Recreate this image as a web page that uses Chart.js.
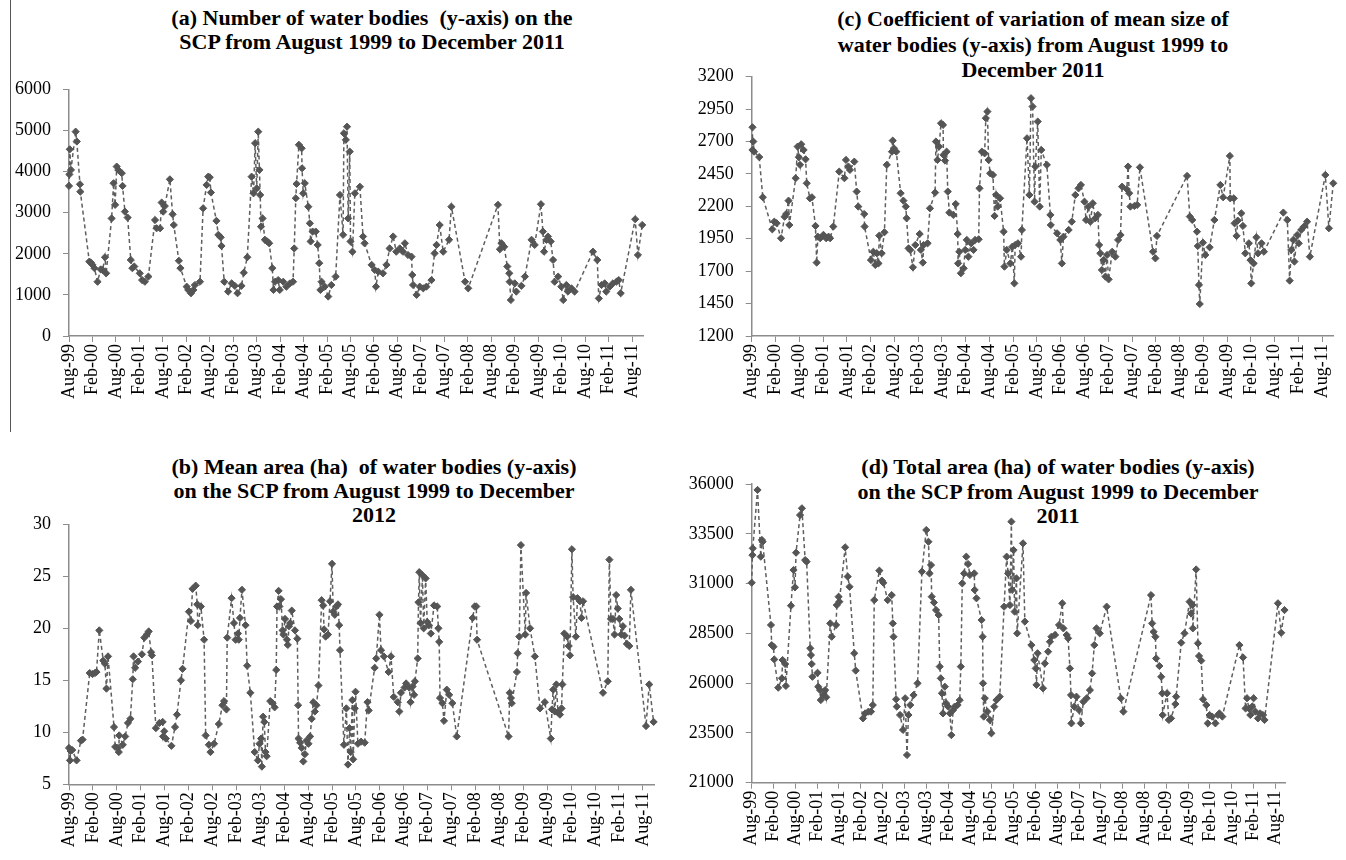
<!DOCTYPE html>
<html>
<head>
<meta charset="utf-8">
<script src="https://cdn.jsdelivr.net/npm/chart.js@4.4.0/dist/chart.umd.min.js"></script>
<style>
    body { margin: 0; background: #fff; width: 1346px; height: 860px; position: relative; overflow: hidden; }
    canvas { position: absolute; }
    .ttl { position: absolute; font: bold 22px "Liberation Serif", "Times New Roman", serif; color: #000;
           text-align: center; white-space: pre; width: 700px; }
    #rule { position: absolute; left: 10px; top: 0; width: 1px; height: 432px; background: #555; }
</style>
</head>
<body>
<div id="rule"></div>

<div class="ttl" style="left:22px; top:6px; line-height:24px;">(a) Number of water bodies  (y-axis) on the
SCP from August 1999 to December 2011</div>
<div class="ttl" style="left:683px; top:6px; line-height:25.5px;">(c) Coefficient of variation of mean size of
water bodies (y-axis) from August 1999 to
December 2011</div>
<div class="ttl" style="left:24px; top:455px; line-height:24px;">(b) Mean area (ha)  of water bodies (y-axis)
on the SCP from August 1999 to December
2012</div>
<div class="ttl" style="left:708px; top:455px; line-height:24.5px;">(d) Total area (ha) of water bodies (y-axis)
on the SCP from August 1999 to December
2011</div>

<canvas id="chartA" width="690" height="372" style="left:0; top:60px;"></canvas>
<canvas id="chartC" width="666" height="382" style="left:680px; top:50px;"></canvas>
<canvas id="chartB" width="690" height="420" style="left:0; top:440px;"></canvas>
<canvas id="chartD" width="666" height="420" style="left:680px; top:440px;"></canvas>

<script>
// x positions are months counted from August 1999
const xTickLabels = ["Aug-99", "Feb-00", "Aug-00", "Feb-01", "Aug-01", "Feb-02", "Aug-02", "Feb-03", "Aug-03",
    "Feb-04", "Aug-04", "Feb-05", "Aug-05", "Feb-06", "Aug-06", "Feb-07", "Aug-07", "Feb-08", "Aug-08",
    "Feb-09", "Aug-09", "Feb-10", "Aug-10", "Feb-11", "Aug-11"];
const lastMonth = 146.8;

// (a) number of water bodies
const countMonths = [0, 0.1, 0.2, 0.5, 1.7, 2.0, 2.8, 2.9, 5.2, 5.6, 6.0, 6.5, 7.3, 8.1, 8.6, 9.2, 9.5,
    10.9, 11.4, 11.8, 12.2, 12.6, 13.5, 13.7, 14.3, 15.0, 15.8, 16.2, 16.7, 18.1, 18.7, 19.4, 20.3,
    22.0, 22.4, 23.3, 23.7, 24.1, 24.5, 25.8, 26.5, 26.8, 28.1, 28.5, 30.1, 30.5, 31.2, 31.8, 32.2, 33.5,
    34.3, 35.2, 35.6, 36.0, 36.3, 37.7, 38.2, 38.8, 39.0, 39.7, 40.7, 41.6, 42.4, 43.1, 44.1, 44.7, 45.6,
    46.7, 47.2, 47.6, 48.0, 48.4, 48.7, 48.9, 49.1, 49.5, 50.1, 50.7, 51.2, 52.0, 52.3, 52.7, 53.5, 53.9,
    54.8, 55.6, 56.5, 57.3, 57.6, 58.0, 58.2, 58.8, 59.5, 59.6, 59.9, 60.3, 61.2, 61.6, 61.8, 62.3, 63.1,
    63.6, 64.0, 64.3, 64.6, 65.4, 66.3, 67.1, 68.2, 69.3, 70.1, 70.3, 70.8, 71.1, 71.4, 71.8, 72.0, 72.5,
    73.1, 74.4, 75.2, 75.6, 77.4, 78.2, 78.5, 79.1, 80.3, 81.2, 82.0, 82.9, 83.7, 84.6, 85.4, 85.9, 86.7,
    87.6, 87.8, 88.0, 88.9, 89.7, 90.6, 91.4, 92.7, 93.5, 94.0, 94.8, 95.7, 97.2, 97.8, 101.3, 102.1,
    109.7, 110.2, 110.6, 111.3, 112.1, 112.6, 112.7, 113.0, 114.0, 114.4, 115.7, 116.6, 118.3, 119.1,
    120.7, 121.2, 121.5, 122.1, 122.5, 123.2, 123.8, 124.2, 125.1, 125.9, 126.4, 127.2, 127.6, 128.5,
    129.3, 134.0, 135.1, 135.5, 136.2, 137.0, 137.4, 138.3, 139.1, 140.0, 140.6, 141.1, 144.8, 145.5, 146.6];
const countValues = [3650, 3930, 4540, 4040, 4970, 4730, 3690, 3510, 1810, 1785, 1730, 1650, 1320, 1620, 1605, 1915, 1525,
    2860, 3715, 3190, 4120, 4040, 3960, 3650, 3025, 2880, 1850, 1650, 1690, 1525, 1360, 1320, 1445,
    2820, 2620, 2620, 3245, 3025, 3160, 3810, 2960, 2700, 1830, 1650, 1200, 1120, 1040, 1120, 1240, 1320,
    3105, 3675, 3875, 3860, 3490, 2800, 2460, 2400, 2190, 1320, 1080, 1280, 1220, 1040, 1220, 1540, 1915,
    3875, 3470, 4690, 3590, 4970, 4040, 3430, 2660, 2860, 2340, 2300, 2255, 1650, 1120, 1320, 1360, 1120,
    1320, 1200, 1280, 1320, 2130, 3350, 3700, 4650, 4565, 4080, 3470, 3715, 3145, 2740, 2300, 2540, 2540,
    2215, 1770, 1120, 1320, 1200, 960, 1240, 1445, 3430, 2460, 4930, 4770, 5090, 2860, 4485, 2300, 2050,
    3470, 3630, 2420, 2255, 1730, 1605, 1200, 1565, 1525, 1730, 2130, 2420, 2050, 2130, 2050, 2255, 1970,
    1930, 1485, 1240, 1000, 1200, 1160, 1200, 1360, 2010, 2215, 2700, 2050, 2340, 3145, 1320, 1160,
    3190, 2110, 2255, 2170, 1690, 1525, 1320, 875, 1280, 1080, 1220, 1445, 2340, 2215,
    3205, 2540, 2050, 2340, 2420, 2300, 1850, 1320, 1445, 1200, 875, 1240, 1080, 1160,
    1080, 2050, 1850, 915, 1240, 1280, 1080, 1200, 1280, 1320, 1360, 1040, 2840, 1970, 2700];

// (b) mean area (ha)
const meanMonths = [0, 0.25, 0.4, 0.8, 1.9, 3.0, 3.4, 5.2, 5.9, 6.5, 6.9, 7.6, 8.6, 9.0, 9.4, 9.8,
    11.3, 11.6, 12.3, 12.5, 12.6, 13.5, 14.1, 14.8, 15.4, 16.0, 16.2, 16.6, 17.3, 18.3, 18.9, 19.5, 20.0, 20.6, 20.8,
    21.8, 22.7, 23.5, 23.6, 23.9, 24.3, 25.7, 26.6, 27.1, 28.1, 28.5, 30.1, 30.6, 31.0, 31.8, 32.2, 32.3, 33.1, 33.9,
    34.3, 35.1, 35.5, 36.4, 37.6, 38.5, 38.9, 39.5, 39.7, 40.8, 41.4, 41.8, 42.4, 42.6, 42.9, 43.4, 44.3, 44.7, 45.5,
    46.6, 47.4, 47.8, 48.2, 48.4, 48.7, 49.0, 49.3, 49.6, 50.5, 51.1, 51.6,
    52.0, 52.2, 52.6, 52.8, 53.2, 53.6, 53.8, 54.2, 54.7, 54.9, 55.2, 55.5, 55.9, 56.7, 57.3,
    57.5, 57.6, 58.0, 58.4, 58.8, 59.2, 59.6, 60.1, 60.5, 60.9, 61.3, 61.7, 62.1, 62.6,
    63.4, 63.8, 64.0, 64.4, 65.0, 65.5, 66.0, 66.3, 66.7, 67.1, 67.5, 67.8, 68.0,
    69.0, 69.6, 70.0, 70.4, 70.7, 71.1, 71.3, 71.7, 71.9, 72.5, 73.3, 74.2, 74.9, 75.2,
    76.7, 77.1, 77.9, 78.3, 79.0, 80.2, 80.8, 81.5, 82.5, 82.9, 83.3, 84.2, 84.6, 85.4, 85.7, 86.2, 86.6, 86.8, 87.5,
    87.7, 87.9, 88.2, 88.7, 89.0, 89.5, 89.9, 90.3, 90.8, 91.6, 92.4, 92.7, 92.9,
    93.1, 93.7, 94.1, 94.8, 95.4, 96.2, 97.3, 101.3, 101.8, 102.2, 102.4,
    110.3, 110.6, 110.9, 111.1, 112.4, 112.6, 113.0, 113.4, 114.5, 114.7, 115.7, 116.9,
    118.2, 119.4, 120.9, 121.2, 121.5, 121.9, 122.3, 122.7, 123.2, 123.6, 123.8,
    124.3, 125.0, 125.4, 125.7, 126.2, 126.5, 127.2, 127.6, 128.2, 128.6, 129.0,
    134.0, 135.2, 135.6, 136.0, 136.5, 136.9, 137.3, 137.7, 138.1, 138.6, 139.0, 139.4, 140.0, 140.6, 141.0,
    144.8, 145.6, 146.7];
const meanValues = [8.5, 7.3, 8.2, 8.3, 7.3, 9.2, 9.3, 15.7, 15.6, 15.7, 15.8, 19.8, 16.9, 16.6, 14.2, 17.3,
    10.5, 8.6, 8.5, 8.1, 9.7, 8.8, 9.6, 10.9, 11.3, 15.1, 17.3, 16.2, 16.8, 17.5, 19.1, 19.4, 19.7, 17.7, 17.4,
    10.4, 10.9, 11.0, 9.6, 10.1, 9.4, 8.7, 10.5, 11.7, 15.0, 16.1, 21.6, 20.7, 23.8, 24.1, 22.3, 20.3, 22.1, 18.9,
    9.7, 8.8, 8.1, 8.9, 10.8, 12.6, 13.0, 12.2, 19.1, 22.9, 20.5, 18.9, 19.5, 18.9, 21.0, 23.7, 20.3, 16.4, 13.8,
    8.1, 7.3, 8.9, 9.4, 6.7, 11.5, 11.0, 8.1, 7.7, 13.0, 12.8, 12.4,
    16.0, 22.1, 23.6, 22.1, 22.8, 19.8, 19.4, 20.9, 18.9, 18.4, 20.2, 20.5, 21.7, 19.8, 19.0,
    12.6, 9.4, 9.0, 8.5, 7.2, 7.9, 9.2, 8.9, 9.6, 11.3, 12.9, 12.0, 12.6, 14.5,
    22.7, 22.2, 19.9, 19.2, 19.4, 22.6, 26.2, 21.6, 21.3, 22.1, 22.3, 20.3, 17.9,
    8.8, 12.3, 6.9, 10.4, 8.1, 13.1, 7.4, 12.3, 13.9, 8.9, 9.1, 9.0, 12.9, 12.1,
    16.2, 17.1, 21.3, 17.9, 17.3, 15.8, 17.3, 13.4, 12.9, 12.0, 13.8, 14.3, 14.7, 14.3, 12.9, 14.4, 13.6, 14.9, 17.1,
    22.5, 25.4, 20.5, 25.1, 20.0, 24.8, 20.6, 20.3, 19.5, 22.2, 22.1, 20.0, 18.7,
    13.3, 12.8, 11.1, 14.1, 13.6, 12.8, 9.6, 21.0, 22.1, 22.1, 18.9,
    9.6, 13.8, 13.3, 12.8, 15.8, 17.6, 19.2, 28.0, 19.4, 23.4, 20.0, 17.3,
    12.3, 12.9, 9.4, 12.2, 14.1, 12.0, 14.6, 11.9, 11.7, 12.3, 14.6,
    19.5, 19.2, 18.3, 17.4, 27.6, 23.0, 19.2, 22.9, 22.6, 21.0, 22.6,
    13.8, 14.9, 26.6, 20.9, 20.9, 19.4, 23.2, 21.9, 20.9, 19.4, 20.2, 19.3, 18.5, 18.3, 23.7,
    10.6, 14.6, 11.0];

// (c) coefficient of variation of mean size
const cvMonths = [0.2, 0.2, 0.4, 0.6, 1.9, 2.8, 5.2, 5.7, 6.3, 7.4, 8.3, 8.7, 9.3, 9.5,
    11.1, 11.6, 11.9, 12.2, 12.5, 13.1, 13.6, 13.9, 14.7, 15.2, 16.1, 16.4, 16.7, 17.3, 18.1, 18.8, 19.4, 19.8, 20.6,
    22.1, 23.4, 23.8, 24.4, 24.8, 25.9, 26.5, 26.9, 28.4, 28.5, 30.1, 30.7, 31.2, 31.6, 32.0, 32.2, 32.8, 33.5,
    34.1, 35.4, 35.6, 35.9, 36.5, 37.6, 38.3, 38.9, 39.1, 39.6, 40.0, 40.7, 41.3, 42.4, 42.7, 43.2, 43.4, 44.4, 45.0, 46.3,
    46.5, 46.9, 47.3, 47.8, 48.3, 48.4, 48.8, 49.2, 49.5, 49.9, 50.9, 51.5, 52.0, 52.1, 52.4, 52.8, 53.5, 53.9,
    54.3, 54.7, 55.4, 56.0, 56.4, 57.3, 57.5, 58.1, 58.8, 59.1, 59.5, 59.8, 60.2, 60.9, 61.3, 61.7, 62.1, 62.7,
    63.6, 63.8, 64.4, 65.3, 65.8, 66.3, 66.5, 67.2, 68.0, 68.2, 69.5, 70.1, 70.5, 70.9, 71.4, 71.6, 72.2, 72.7, 73.1,
    74.5, 75.4, 75.5, 77.1, 77.9, 78.3, 78.7, 80.0, 80.8, 81.7, 82.5, 83.1, 84.0, 84.4, 85.0, 85.5, 86.1, 86.7, 87.4,
    87.7, 88.0, 88.4, 88.8, 89.3, 89.7, 90.1, 91.0, 91.8, 92.5, 93.1, 93.5, 94.7, 95.0, 95.3, 95.6, 96.6, 97.3, 98.0,
    101.3, 101.9, 102.3, 109.9, 110.6, 111.2, 112.4, 112.6, 112.9, 113.1, 113.9, 114.5, 115.6, 116.8,
    118.3, 119.0, 120.7, 120.8, 121.7, 121.9, 122.4, 122.7, 123.6, 124.0, 124.6, 125.5, 125.9, 126.1, 126.7,
    127.4, 127.8, 128.7, 129.3, 134.2, 135.2, 135.8, 136.2, 136.7, 137.0, 137.7, 138.1, 138.7, 139.4, 140.2, 140.9,
    144.8, 145.7, 146.8];
const cvValues = [2810, 2635, 2700, 2622, 2580, 2270, 2023, 2082, 2070, 1954, 2120, 2141, 2244, 2056,
    2417, 2661, 2579, 2520, 2679, 2635, 2563, 2378, 2262, 2270, 2049, 1766, 1966, 1954, 1980, 1954, 1966, 1954, 2044,
    2468, 2417, 2558, 2507, 2481, 2545, 2314, 2198, 2141, 2044, 1786, 1850, 1748, 1838, 1760, 1974, 1838, 2000,
    2520, 2622, 2707, 2648, 2622, 2301, 2244, 2198, 2108, 1876, 1864, 1730, 1902, 1987, 1864, 1766, 1902, 1915, 2185, 2306,
    2700, 2558, 2661, 2841, 2828, 2597, 2553, 2622, 2314, 2152, 2134, 2218, 1987, 1760, 1850, 1684, 1722, 1864,
    1941, 1812, 1915, 1864, 1941, 1946, 2339, 2622, 2609, 2880, 2931, 2558, 2455, 2442, 2126, 2288, 2198, 2262,
    2005, 1735, 1864, 1760, 1889, 1606, 1902, 1915, 1812, 2018, 2725, 2288, 3034, 2970, 2236, 2507, 2854, 2198, 2635,
    2520, 2134, 2056, 1992, 1941, 1760, 1966, 2018, 2082, 2288, 2339, 2365, 2236, 2095, 2198, 2082, 2224, 2108, 2134,
    1902, 1838, 1709, 1786, 1658, 1825, 1637, 1850, 1812, 1941, 1979, 2352, 2332, 2507, 2301, 2198, 2203, 2211, 2501,
    1850, 1799, 1972, 2435, 2121, 2095, 2005, 1894, 1594, 1447, 1920, 1825, 1884, 2095,
    2365, 2270, 2589, 2262, 2262, 2069, 1972, 2090, 2146, 2049, 1838, 1915, 1786, 1606, 1760,
    1961, 1838, 1915, 1850, 2152, 2095, 1627, 1864, 1941, 1774, 1979, 1915, 2018, 2044, 2082, 1812,
    2442, 2031, 2378];

// (d) total area (ha)
const totalMonths = [0, 0.2, 0.3, 1.6, 2.5, 2.8, 3.0, 5.3, 5.5, 6.0, 6.2, 7.3, 8.3, 8.5, 9.2, 9.4,
    10.8, 11.5, 11.9, 12.2, 13.3, 13.8, 14.7, 15.1, 16.1, 16.3, 16.5, 16.7, 18.1, 18.3, 18.8, 19.0, 19.7, 20.2, 20.5,
    21.6, 22.0, 23.2, 23.4, 23.9, 24.1, 25.7, 26.4, 26.9, 28.2, 28.6, 30.6, 31.2, 32.1, 32.8, 33.3,
    33.7, 35.1, 35.8, 36.2, 37.4, 38.5, 38.8, 39.0, 39.7, 39.9, 40.8, 41.6, 42.2, 42.7, 43.1, 43.6, 44.5, 45.6,
    46.8, 48.0, 48.6, 48.9, 49.3, 49.5, 50.1, 50.7, 51.4, 51.7, 52.0, 52.3, 52.6, 53.1, 53.5, 54.0, 54.5, 54.9,
    55.4, 55.8, 56.6, 57.2, 57.5, 57.9, 58.4, 59.0, 59.5, 60.0, 61.2, 61.3, 61.8, 63.2, 63.5, 63.6, 63.8,
    64.1, 64.8, 65.5, 65.9, 66.7, 67.3, 68.2, 69.4, 70.1, 70.5, 71.0, 71.4, 71.6, 72.0, 72.3, 72.8, 73.0,
    74.6, 75.1, 76.9, 77.7, 78.1, 78.3, 78.6, 80.1, 80.6, 81.5, 82.0, 82.4, 83.4, 84.5, 85.4, 85.7, 86.6, 87.0,
    87.5, 87.8, 87.9, 88.7, 89.3, 90.0, 90.5, 91.2, 92.1, 93.0, 93.6, 94.2, 94.8, 95.7, 97.6, 101.5, 102.2,
    109.8, 110.1, 110.5, 111.0, 111.2, 112.1, 112.6, 112.9, 113.0, 114.2, 114.7, 115.3, 116.5, 116.7,
    118.1, 119.0, 120.4, 120.8, 121.2, 121.3, 122.2, 122.7, 123.0, 123.6, 124.1, 125.0, 125.4, 125.9,
    126.6, 127.5, 128.2, 128.6, 129.4, 134.1, 135.1, 135.8, 136.2, 136.7, 137.1, 137.6, 138.0, 138.5,
    139.2, 139.8, 140.6, 141.0, 144.7, 145.6, 146.5];
const totalValues = [31040, 32430, 32770, 35700, 32350, 33190, 33100, 28920, 27910, 27830, 27190, 25770, 26240, 27160, 26960, 25860,
    29890, 31680, 30810, 32550, 34440, 34780, 32180, 32100, 27750, 27410, 26960, 26320, 26520, 25820, 25650, 25150, 25400, 25650, 25290,
    29000, 28330, 28920, 29920, 30340, 30090, 32820, 31350, 30840, 27500, 26630, 24230, 24480, 24570, 24570, 24900,
    30170, 31650, 31150, 31040, 30170, 30420, 29000, 28330, 25190, 24820, 24400, 23650, 25240, 22390, 24400, 24900, 25400, 25990,
    31600, 33690, 33100, 31510, 31930, 30340, 30050, 29670, 29420, 26830, 26240, 25490, 24480, 25820, 24980, 24820, 24480, 23390,
    24650, 24820, 24900, 25150, 26830, 31010, 31510, 32350, 31980, 31430, 31510, 30680, 30260, 29170, 28330, 25990, 24320,
    25240, 24570, 24150, 23480, 24820, 25150, 25320, 29840, 32350, 31510, 29920, 34110, 30680, 32680, 29590, 31260, 28500,
    33020, 29090, 27910, 27160, 26740, 25910, 27500, 25740, 26990, 27580, 28080, 28330, 28420, 28920, 30010, 28750, 28420, 28250,
    26740, 25400, 23980, 24820, 25320, 24650, 23980, 25070, 25240, 25650, 26490, 27910, 28750, 28500, 29840, 25240, 24570,
    30420, 29000, 28580, 28330, 27240, 26860, 26320, 25490, 24400, 25490, 24150, 24230, 24950, 25320,
    28030, 28500, 30090, 29500, 29920, 28750, 31710, 28000, 27360, 27130, 25190, 24900, 23980, 24400,
    24320, 23980, 24400, 24480, 24320, 27910, 27290, 24730, 25240, 24730, 24400, 24820, 25240, 24570,
    24230, 24480, 24400, 24150, 30010, 28530, 29670];

const axisGrey = '#8c8c8c';
const tickFont = { family: 'Liberation Serif', size: 18 };

function makeChart(id, months, values, yMin, yMax, yStep, box) {
    const points = months.map((m, i) => ({ x: m, y: values[i] }));
    return new Chart(document.getElementById(id), {
        type: 'line',
        data: {
            datasets: [{
                data: points,
                borderColor: '#5e5e5e',
                borderWidth: 1.5,
                borderDash: [4, 3],
                pointStyle: 'rectRot',
                pointRadius: 3.6,
                pointBackgroundColor: '#555',
                pointBorderColor: '#555',
                pointBorderWidth: 1,
                tension: 0,
                fill: false,
                clip: false
            }]
        },
        options: {
            responsive: false,
            animation: false,
            devicePixelRatio: 1,
            layout: { padding: box.padding },
            plugins: { legend: { display: false }, tooltip: { enabled: false } },
            scales: {
                x: {
                    type: 'linear',
                    min: 0,
                    max: lastMonth,
                    afterBuildTicks: (s) => { s.ticks = xTickLabels.map((_, i) => ({ value: i * 6 })); },
                    afterFit: (s) => { s.height = box.xHeight; },
                    ticks: {
                        autoSkip: false, minRotation: 90, maxRotation: 90, padding: 2,
                        color: '#000', font: tickFont,
                        callback: (v, i) => xTickLabels[i]
                    },
                    grid: { drawOnChartArea: false, drawTicks: true, tickLength: 6, color: axisGrey },
                    border: { color: axisGrey, width: 1.5 }
                },
                y: {
                    min: yMin,
                    max: yMax,
                    afterFit: (s) => { s.width = box.yWidth; },
                    ticks: { stepSize: yStep, padding: 12, color: '#000', font: tickFont, callback: (v) => String(v) },
                    grid: { drawOnChartArea: false, drawTicks: true, tickLength: 6, color: axisGrey },
                    border: { color: axisGrey, width: 1.5 }
                }
            }
        }
    });
}

makeChart('chartA', countMonths, countValues, 0, 6000, 1000,
    { padding: { left: 5, right: 47, top: 29.3, bottom: 16 }, yWidth: 64, xHeight: 80 });
makeChart('chartC', cvMonths, cvValues, 1200, 3200, 250,
    { padding: { left: 5, right: 12.7, top: 26.7, bottom: 16 }, yWidth: 66.7, xHeight: 80 });
makeChart('chartB', meanMonths, meanValues, 5, 30, 5,
    { padding: { left: 5, right: 36, top: 84.3, bottom: 5.7 }, yWidth: 64, xHeight: 70 });
makeChart('chartD', totalMonths, totalValues, 21000, 36000, 2500,
    { padding: { left: 5, right: 60.4, top: 44, bottom: 7.3 }, yWidth: 66.7, xHeight: 70 });
</script>
</body>
</html>
